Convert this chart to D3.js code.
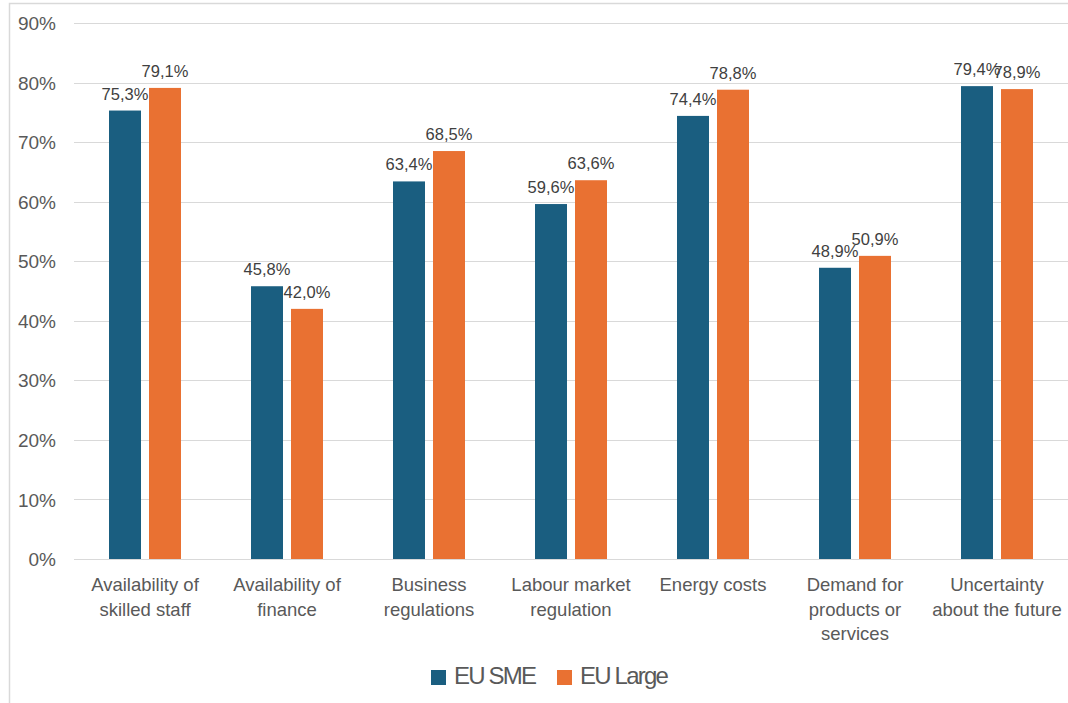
<!DOCTYPE html>
<html>
<head>
<meta charset="utf-8">
<script src="https://cdn.jsdelivr.net/npm/d3@7"></script>
<style>
  html, body { margin: 0; padding: 0; background: #fff; }
  svg { display: block; font-family: "Liberation Sans", Arial, sans-serif; }
</style>
</head>
<body>
<svg id="chart" width="1068" height="703"></svg>
<script>
const categories = [
  ["Availability of", "skilled staff"],
  ["Availability of", "finance"],
  ["Business", "regulations"],
  ["Labour market", "regulation"],
  ["Energy costs"],
  ["Demand for", "products or", "services"],
  ["Uncertainty", "about the future"]
];
const seriesNames = ["EU SME", "EU Large"];
const smeValues = [75.3, 45.8, 63.4, 59.6, 74.4, 48.9, 79.4];
const largeValues = [79.1, 42.0, 68.5, 63.6, 78.8, 50.9, 78.9];
const yTicks = [0, 10, 20, 30, 40, 50, 60, 70, 80, 90];
const colors = ["#1a5e80", "#e97132"];

const svg = d3.select("#chart");
const W = 1068, H = 703;
const plotLeft = 74, plotRight = 1068, plotTop = 23, plotBottom = 559;

// border
svg.append("rect").attr("x", 9.5).attr("y", 3.5).attr("width", W + 10).attr("height", H + 10)
  .attr("fill", "none").attr("stroke", "#d9d9d9").attr("stroke-width", 1.5);

const catIdx = categories.map((d, i) => i);
const x0 = d3.scaleBand().domain(catIdx).range([plotLeft, plotRight]).padding(0);
const x1 = d3.scaleBand().domain(seriesNames).range([35, x0.bandwidth() - 35]).paddingInner(0.2).paddingOuter(0);
const y = d3.scaleLinear().domain([0, 90]).range([plotBottom, plotTop]);

// gridlines
svg.append("g").selectAll("line").data(yTicks).join("line")
  .attr("x1", plotLeft).attr("x2", plotRight)
  .attr("y1", d => Math.round(y(d)) + 0.5).attr("y2", d => Math.round(y(d)) + 0.5)
  .attr("stroke", "#d9d9d9").attr("stroke-width", 1.2);

// y axis labels
const yAxis = d3.axisLeft(y).tickValues(yTicks).tickFormat(d => d + "%").tickSize(0).tickPadding(18);
const yg = svg.append("g").attr("transform", `translate(${plotLeft},0)`).call(yAxis);
yg.select(".domain").remove();
yg.selectAll("text").attr("fill", "#595959").style("font-size", "19px")
  .style("font-family", "'Liberation Sans', Arial, sans-serif").attr("dy", "0.35em");

const data = catIdx.map(i => ({ i, vals: [smeValues[i], largeValues[i]] }));

const groups = svg.append("g").selectAll("g").data(data).join("g")
  .attr("transform", d => `translate(${x0(d.i)},0)`);

groups.selectAll("rect").data(d => d.vals.map((v, k) => ({ v, k }))).join("rect")
  .attr("x", d => x1(seriesNames[d.k]))
  .attr("width", x1.bandwidth())
  .attr("y", d => y(d.v))
  .attr("height", d => y(0) - y(d.v))
  .attr("fill", d => colors[d.k]);

groups.selectAll("text.val").data(d => d.vals.map((v, k) => ({ v, k }))).join("text")
  .attr("class", "val")
  .attr("x", d => x1(seriesNames[d.k]) + x1.bandwidth() / 2)
  .attr("y", d => y(d.v) - 11)
  .attr("text-anchor", "middle")
  .attr("fill", "#404040")
  .style("font-size", "16.5px")
  .text(d => d.v.toFixed(1).replace(".", ",") + "%");

// category labels
const xlab = svg.append("g").selectAll("text").data(data).join("text")
  .attr("x", d => x0(d.i) + x0.bandwidth() / 2)
  .attr("y", 591)
  .attr("text-anchor", "middle")
  .attr("fill", "#595959")
  .style("font-size", "18.5px");
xlab.selectAll("tspan").data(d => categories[d.i]).join("tspan")
  .attr("x", function() { return d3.select(this.parentNode).attr("x"); })
  .attr("dy", (d, j) => j === 0 ? 0 : 24.5)
  .text(d => d);

// legend
const legendItems = [
  { name: seriesNames[0], color: colors[0], x: 431 },
  { name: seriesNames[1], color: colors[1], x: 557 }
];
const lg = svg.append("g").selectAll("g").data(legendItems).join("g")
  .attr("transform", d => `translate(${d.x},0)`);
lg.append("rect").attr("x", 0).attr("y", 670).attr("width", 15).attr("height", 15).attr("fill", d => d.color);
lg.append("text").attr("x", 23).attr("y", 684)
  .attr("fill", "#595959").style("font-size", "24px").style("letter-spacing", "-1.8px")
  .text(d => d.name);
</script>
</body>
</html>
